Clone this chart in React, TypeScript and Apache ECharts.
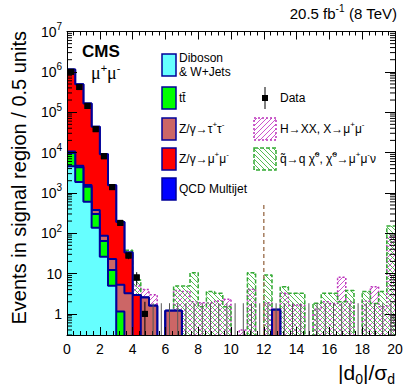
import React, { useEffect, useRef } from 'react';
import * as echarts from 'echarts';

// ---------------- data ----------------
const N_BINS = 40;
const BIN_WIDTH = 0.5;
const Y_MIN = 0.3;
const Y_MAX = 1e7;

// background stack components, events per 0.5 bin (bins 0..39)
const DIBOSON_WJETS = [4600, 1870, 600, 137, 26, 5.0, 0, 0, 0, 0, 0, 0, 0, 0, 0, 0, 0, 0, 0, 0, 0, 0, 0, 0, 0, 0, 0, 0, 0, 0, 0, 0, 0, 0, 0, 0, 0, 0, 0, 0];
const TTBAR = [5200, 2430, 820, 163, 38, 7.3, 1.15, 0, 0, 0, 0, 0, 0, 0, 0, 0, 0, 0, 0, 0, 0, 0, 0, 0, 0, 0, 0, 0, 0, 0, 0, 0, 0, 0, 0, 0, 0, 0, 0, 0];
const Z_TAUTAU = [800, 400, 150, 75, 23, 10.7, 4.1, 3.25, 0, 2.55, 1.6, 0, 1.19, 1.19, 0, 0, 0, 0, 0, 0, 0, 0, 0, 0, 0, 1.26, 0, 0, 0, 0, 0, 0, 0, 0, 0, 0, 0, 0, 0, 0];
const Z_MUMU = [1.13e6, 4.85e5, 1.62e5, 4.31e4, 9010, 1527, 185, 30, 2.95, 0, 0, 0, 0, 0, 0, 0, 0, 0, 0, 0, 0, 0, 0, 0, 0, 0, 0, 0, 0, 0, 0, 0, 0, 0, 0, 0, 0, 0, 0, 0];
const QCD = [0, 0, 0, 0, 0, 0, 0, 0, 0, 0, 0, 0, 0, 0, 0, 0, 0, 0, 0, 0, 0, 0, 0, 0, 0, 0, 0, 0, 0, 0, 0, 0, 0, 0, 0, 0, 0, 0, 0, 0];

// observed data
const DATA = [1.0e6, 4.2e5, 1.43e5, 3.8e4, 8100, 1390, 180, 28, 8, 1, 0, 0, 0, 0, 0, 0, 0, 0, 0, 0, 0, 0, 0, 0, 0, 0, 0, 0, 0, 0, 0, 0, 0, 0, 0, 0, 0, 0, 0, 0];
const ZERO_BIN_UPPER = 1.84;

// signal models (hatched, not stacked)
const SIG_HIGGS = [20, 18, 16, 14, 12, 10, 9, 8, 5.0, 4.0, 3.0, 0, 0.8, 3.8, 3.6, 2.0, 1.9, 1.9, 2.1, 2.3, 0, 0.4, 4.1, 0, 1.9, 0.8, 3.25, 1.67, 1.67, 0, 1.3, 2.0, 1.8, 8.1, 2.0, 0, 2.1, 4.7, 1.5, 80];
const SIG_SQUARK = [60, 55, 50, 48, 45, 42, 40, 38, 6.9, 2.0, 1.5, 0, 1.0, 4.9, 4.9, 10.5, 1.5, 3.6, 3.25, 1.5, 0, 0, 10.5, 0, 9.2, 1.0, 4.7, 3.25, 3.25, 0, 1.84, 3.25, 3.25, 2.0, 3.8, 0, 3.6, 1.8, 3.6, 150];

// dashed vertical marker
const MARKER_X = 12.0;
const MARKER_TOP = 500;

const X_TICKS_INTERVAL = 2;
const LOG_MINOR_MULT = [2, 3, 4, 5, 6, 7, 8, 9];
const LOG_DECADES = [-1, 0, 1, 2, 3, 4, 5, 6];

// ---------------- styling ----------------
const FONT = "'Liberation Sans', Arial, Helvetica, sans-serif";
const SERIF = "'Liberation Serif', 'Times New Roman', serif";
const NAVY = '#000099';
const C_CYAN = '#66ffff';
const C_GREEN = '#00ff00';
const C_BROWN = '#cc6666';
const C_RED = '#ff0000';
const C_BLUE = '#0000ff';
const C_MAG = '#bb33bb';
const C_MAG_H = '#cc55cc';
const C_SQ = '#33aa33';
const C_SQ_H = '#55bb55';

function hatch(color: string, dir: number, size: number) {
  const c = document.createElement('canvas');
  c.width = size;
  c.height = size;
  const ctx = c.getContext('2d')!;
  ctx.strokeStyle = color;
  ctx.lineWidth = 1;
  ctx.beginPath();
  for (const o of [-size, 0, size]) {
    if (dir > 0) {
      ctx.moveTo(o, size);
      ctx.lineTo(o + size, 0);
    } else {
      ctx.moveTo(o, 0);
      ctx.lineTo(o + size, size);
    }
  }
  ctx.stroke();
  return { image: c.toDataURL(), repeat: 'repeat', imageWidth: size, imageHeight: size } as any;
}

function cumulative(...arrs: number[][]) {
  return arrs[0].map((_, i) => arrs.reduce((s, a) => s + a[i], 0));
}

function stepPoints(vals: number[]) {
  const floor = Y_MIN * 1e-3;
  const pts = vals.map((v, i) => [i * BIN_WIDTH, v > 0 ? v : floor]);
  const last = vals[vals.length - 1];
  pts.push([N_BINS * BIN_WIDTH, last > 0 ? last : floor]);
  return pts;
}

function stepSeries(vals: number[], fill: any, stroke: string, z: number, width: number, type: any) {
  return {
    type: 'line',
    data: stepPoints(vals),
    step: 'end',
    symbol: 'none',
    showSymbol: false,
    z,
    clip: true,
    silent: true,
    lineStyle: { color: stroke, width, type },
    itemStyle: { color: stroke },
    areaStyle: { color: fill, opacity: 1, origin: 'start' },
  };
}

function buildOption() {
  const hMag = hatch(C_MAG_H, 1, 5);
  const hSq = hatch(C_SQ_H, -1, 5);

  const cCyan = cumulative(DIBOSON_WJETS);
  const cTT = cumulative(DIBOSON_WJETS, TTBAR);
  const cTau = cumulative(DIBOSON_WJETS, TTBAR, Z_TAUTAU);
  const cMu = cumulative(DIBOSON_WJETS, TTBAR, Z_TAUTAU, Z_MUMU);
  const cQcd = cumulative(DIBOSON_WJETS, TTBAR, Z_TAUTAU, Z_MUMU, QCD);

  // [x, value, low, high]
  const dataPts = DATA.map((n, i) => {
    const x = (i + 0.5) * BIN_WIDTH;
    if (n > 0) return [x, n, Math.max(n - Math.sqrt(n), Y_MIN), n + Math.sqrt(n)];
    return [x, 0, Y_MIN, ZERO_BIN_UPPER];
  });
  const points = DATA.map((n, i) => [(i + 0.5) * BIN_WIDTH, n]).filter((p) => p[1] > 0);

  const minorVals: number[][] = [];
  LOG_DECADES.forEach((d) =>
    LOG_MINOR_MULT.forEach((m) => {
      const v = m * Math.pow(10, d);
      if (v > Y_MIN && v < Y_MAX) minorVals.push([0, v]);
    })
  );

  const tickAxisCommon = (pos: string) => ({
    position: pos,
    z: 12,
    axisLine: { show: true, onZero: false, lineStyle: { color: '#000', width: 1 } },
    splitLine: { show: false },
    minorSplitLine: { show: false },
  });

  const yLabelFmt = (v: number) => {
    const l = Math.log10(v);
    const e = Math.round(l);
    if (Math.abs(l - e) > 1e-6) return '';
    if (e === 0) return '1';
    if (e === 1) return '10';
    return `{b|10}{s|${e}}`;
  };

  const legText = (x: number, y: number, text: string) => ({
    type: 'text',
    x,
    y,
    z: 30,
    style: {
      text,
      fill: '#000',
      verticalAlign: 'middle',
      align: 'left',
      rich: {
        n: { fontSize: 12, fontFamily: FONT, lineHeight: 18, fill: '#000' },
        s: { fontSize: 8, fontFamily: FONT, lineHeight: 8, verticalAlign: 'top', fill: '#000' },
      },
      fontSize: 12,
      fontFamily: FONT,
    },
  });
  const legBox = (x: number, y: number, w: number, h: number, fill: any, stroke: string, dash?: number[]) => ({
    type: 'rect',
    z: 30,
    shape: { x, y, width: w, height: h },
    style: { fill, stroke, lineWidth: 1.5, lineDash: dash || null },
  });

  return {
    animation: false,
    backgroundColor: '#ffffff',
    textStyle: { fontFamily: FONT },
    grid: { left: 67, right: 12, top: 31.5, bottom: 56, containLabel: false },
    xAxis: [
      {
        type: 'value',
        min: 0,
        max: N_BINS * BIN_WIDTH,
        interval: X_TICKS_INTERVAL,
        ...tickAxisCommon('bottom'),
        axisTick: { show: true, inside: true, length: 8, lineStyle: { color: '#000' } },
        minorTick: { show: true, splitNumber: 5, length: 4, lineStyle: { color: '#000' } },
        axisLabel: { show: true, fontSize: 14, color: '#000', margin: 7, fontFamily: FONT },
      },
      {
        type: 'value',
        min: 0,
        max: N_BINS * BIN_WIDTH,
        interval: X_TICKS_INTERVAL,
        ...tickAxisCommon('top'),
        axisTick: { show: true, inside: true, length: 8, lineStyle: { color: '#000' } },
        minorTick: { show: true, splitNumber: 5, length: 4, lineStyle: { color: '#000' } },
        axisLabel: { show: false },
      },
    ],
    yAxis: [
      {
        type: 'log',
        logBase: 10,
        min: Y_MIN,
        max: Y_MAX,
        splitNumber: 8,
        ...tickAxisCommon('left'),
        axisTick: { show: true, inside: true, length: 10, lineStyle: { color: '#000' } },
        axisLabel: {
          show: true,
          showMinLabel: false,
          formatter: yLabelFmt,
          color: '#000',
          fontSize: 14,
          margin: 5,
          fontFamily: FONT,
          rich: {
            b: { fontSize: 14, fontFamily: FONT, lineHeight: 20, color: '#000' },
            s: { fontSize: 10, fontFamily: FONT, lineHeight: 10, verticalAlign: 'top', color: '#000' },
          },
        },
      },
      {
        type: 'log',
        logBase: 10,
        min: Y_MIN,
        max: Y_MAX,
        splitNumber: 8,
        ...tickAxisCommon('right'),
        axisTick: { show: true, inside: true, length: 10, lineStyle: { color: '#000' } },
        axisLabel: { show: false },
      },
    ],
    series: [
      // signals (behind the stack)
      stepSeries(SIG_HIGGS, hMag, C_MAG, 1, 1.5, [2, 2]),
      stepSeries(SIG_SQUARK, hSq, C_SQ, 2, 1.5, [4, 2]),
      {
        type: 'line',
        data: [
          [MARKER_X, Y_MIN],
          [MARKER_X, MARKER_TOP],
        ],
        symbol: 'none',
        z: 3,
        silent: true,
        lineStyle: { color: '#a57d5f', width: 1.5, type: [4, 3] },
      },
      // stack, drawn from the top cumulative down
      stepSeries(cQcd, C_BLUE, NAVY, 4, 2, 'solid'),
      stepSeries(cMu, C_RED, NAVY, 5, 2, 'solid'),
      stepSeries(cTau, C_BROWN, NAVY, 6, 2, 'solid'),
      stepSeries(cTT, C_GREEN, NAVY, 7, 2, 'solid'),
      stepSeries(cCyan, C_CYAN, NAVY, 8, 2, 'solid'),
      // log minor ticks on left / right frame
      {
        type: 'custom',
        z: 10,
        silent: true,
        data: minorVals,
        encode: { x: 0, y: 1 },
        renderItem: (_p: any, api: any) => {
          const v = api.value(1);
          const l = api.coord([0, v]);
          const r = api.coord([N_BINS * BIN_WIDTH, v]);
          return {
            type: 'group',
            children: [
              { type: 'line', shape: { x1: l[0], y1: l[1], x2: l[0] + 5, y2: l[1] }, style: { stroke: '#000', fill: 'none', lineWidth: 1 } },
              { type: 'line', shape: { x1: r[0], y1: r[1], x2: r[0] - 5, y2: r[1] }, style: { stroke: '#000', fill: 'none', lineWidth: 1 } },
            ],
          };
        },
      },
      // data: error bars + square markers, on the topmost layer
      {
        type: 'custom',
        z: 50,
        zlevel: 2,
        silent: true,
        data: dataPts,
        encode: { x: 0, y: [1, 2, 3] },
        renderItem: (_p: any, api: any) => {
          const x = api.value(0);
          const n = api.value(1);
          const a = api.coord([x, api.value(2)]);
          const b = api.coord([x, api.value(3)]);
          const children: any[] = [
            {
              type: 'line',
              shape: { x1: a[0], y1: a[1], x2: b[0], y2: b[1] },
              style: { stroke: n > 0 ? '#000' : '#555', fill: 'none', lineWidth: 1 },
            },
          ];
          if (n > 0) {
            const c = api.coord([x, n]);
            children.push({
              type: 'rect',
              shape: { x: c[0] - 3, y: c[1] - 3, width: 6, height: 6 },
              style: { fill: '#000', stroke: 'none' },
            });
          }
          return { type: 'group', children };
        },
      },
      {
        type: 'scatter',
        z: 51,
        zlevel: 2,
        silent: true,
        symbol: 'rect',
        symbolSize: 6,
        itemStyle: { color: '#000', opacity: 1 },
        data: points,
      },
    ],
    graphic: {
      elements: [
        {
          type: 'text',
          x: 397,
          y: 13,
          z: 30,
          style: {
            text: '{n|20.5 fb}{s|-1}{n| (8 TeV)}',
            align: 'right',
            verticalAlign: 'middle',
            rich: {
              n: { fontSize: 15, fontFamily: FONT, lineHeight: 20, fill: '#000' },
              s: { fontSize: 10, fontFamily: FONT, lineHeight: 10, verticalAlign: 'top', fill: '#000' },
            },
          },
        },
        {
          type: 'text',
          x: 82,
          y: 51,
          z: 30,
          style: { text: 'CMS', fontSize: 17, fontWeight: 'bold', fontFamily: FONT, fill: '#000', verticalAlign: 'middle' },
        },
        {
          type: 'text',
          x: 91,
          y: 73,
          z: 30,
          style: {
            text: '{m|μ}{s|+}{m|μ}{s|-}',
            verticalAlign: 'middle',
            rich: {
              m: { fontSize: 18, fontFamily: SERIF, lineHeight: 22, fill: '#000' },
              s: { fontSize: 11, fontFamily: FONT, lineHeight: 11, verticalAlign: 'top', fill: '#000' },
            },
          },
        },
        {
          type: 'text',
          x: 19,
          y: 31,
          z: 30,
          rotation: Math.PI / 2,
          style: {
            text: 'Events in signal region / 0.5 units',
            fontSize: 20,
            fontFamily: FONT,
            fill: '#000',
            align: 'right',
            verticalAlign: 'middle',
          },
        },
        {
          type: 'text',
          x: 395,
          y: 372,
          z: 30,
          style: {
            text: '{m||d}{u|0}{m||/σ}{u|d}',
            align: 'right',
            verticalAlign: 'middle',
            rich: {
              m: { fontSize: 21, fontFamily: FONT, lineHeight: 28, fill: '#000' },
              u: { fontSize: 14, fontFamily: FONT, lineHeight: 14, verticalAlign: 'bottom', fill: '#000' },
            },
          },
        },
        // legend, left column
        legBox(162, 54, 14, 22, C_CYAN, NAVY),
        {
          type: 'text',
          x: 179,
          y: 65,
          z: 30,
          style: { text: 'Diboson\n& W+Jets', fontSize: 12, lineHeight: 14, fontFamily: FONT, fill: '#000', verticalAlign: 'middle' },
        },
        legBox(162, 87, 14, 22, C_GREEN, NAVY),
        legText(179, 98, '{n|tt\u0304}'),
        legBox(162, 118, 14, 22, C_BROWN, NAVY),
        legText(179, 129, '{n|Z/γ→τ}{s|+}{n|τ}{s|-}'),
        legBox(162, 148, 14, 22, C_RED, NAVY),
        legText(179, 159, '{n|Z/γ→μ}{s|+}{n|μ}{s|-}'),
        legBox(162, 178, 14, 22, C_BLUE, NAVY),
        legText(179, 189, '{n|QCD Multijet}'),
        // legend, right column
        { type: 'line', z: 30, shape: { x1: 265, y1: 87, x2: 265, y2: 109 }, style: { stroke: '#000', lineWidth: 1 } },
        { type: 'rect', z: 31, shape: { x: 262, y: 95, width: 6, height: 6 }, style: { fill: '#000' } },
        legText(280, 98, '{n|Data}'),
        legBox(254, 118, 22, 22, hMag, C_MAG, [2, 2]),
        legText(280, 129, '{n|H→XX, X→μ}{s|+}{n|μ}{s|-}'),
        legBox(254, 148, 22, 22, hSq, C_SQ, [4, 2]),
        legText(280, 159, '{n|q\u0303→q χ\u0303}{s|0}{n|, χ\u0303}{s|0}{n|→μ}{s|+}{n|μ}{s|-}{n|ν}'),
      ],
    },
  };
}

export default function App() {
  const ref = useRef<HTMLDivElement>(null);
  useEffect(() => {
    const chart = echarts.init(ref.current!, null, { renderer: 'svg' });
    chart.setOption(buildOption() as any);
    return () => chart.dispose();
  }, []);
  return (
    <div
      ref={ref}
      style={{ position: 'fixed', left: 0, top: 0, width: 407, height: 391, background: '#fff' }}
    />
  );
}
